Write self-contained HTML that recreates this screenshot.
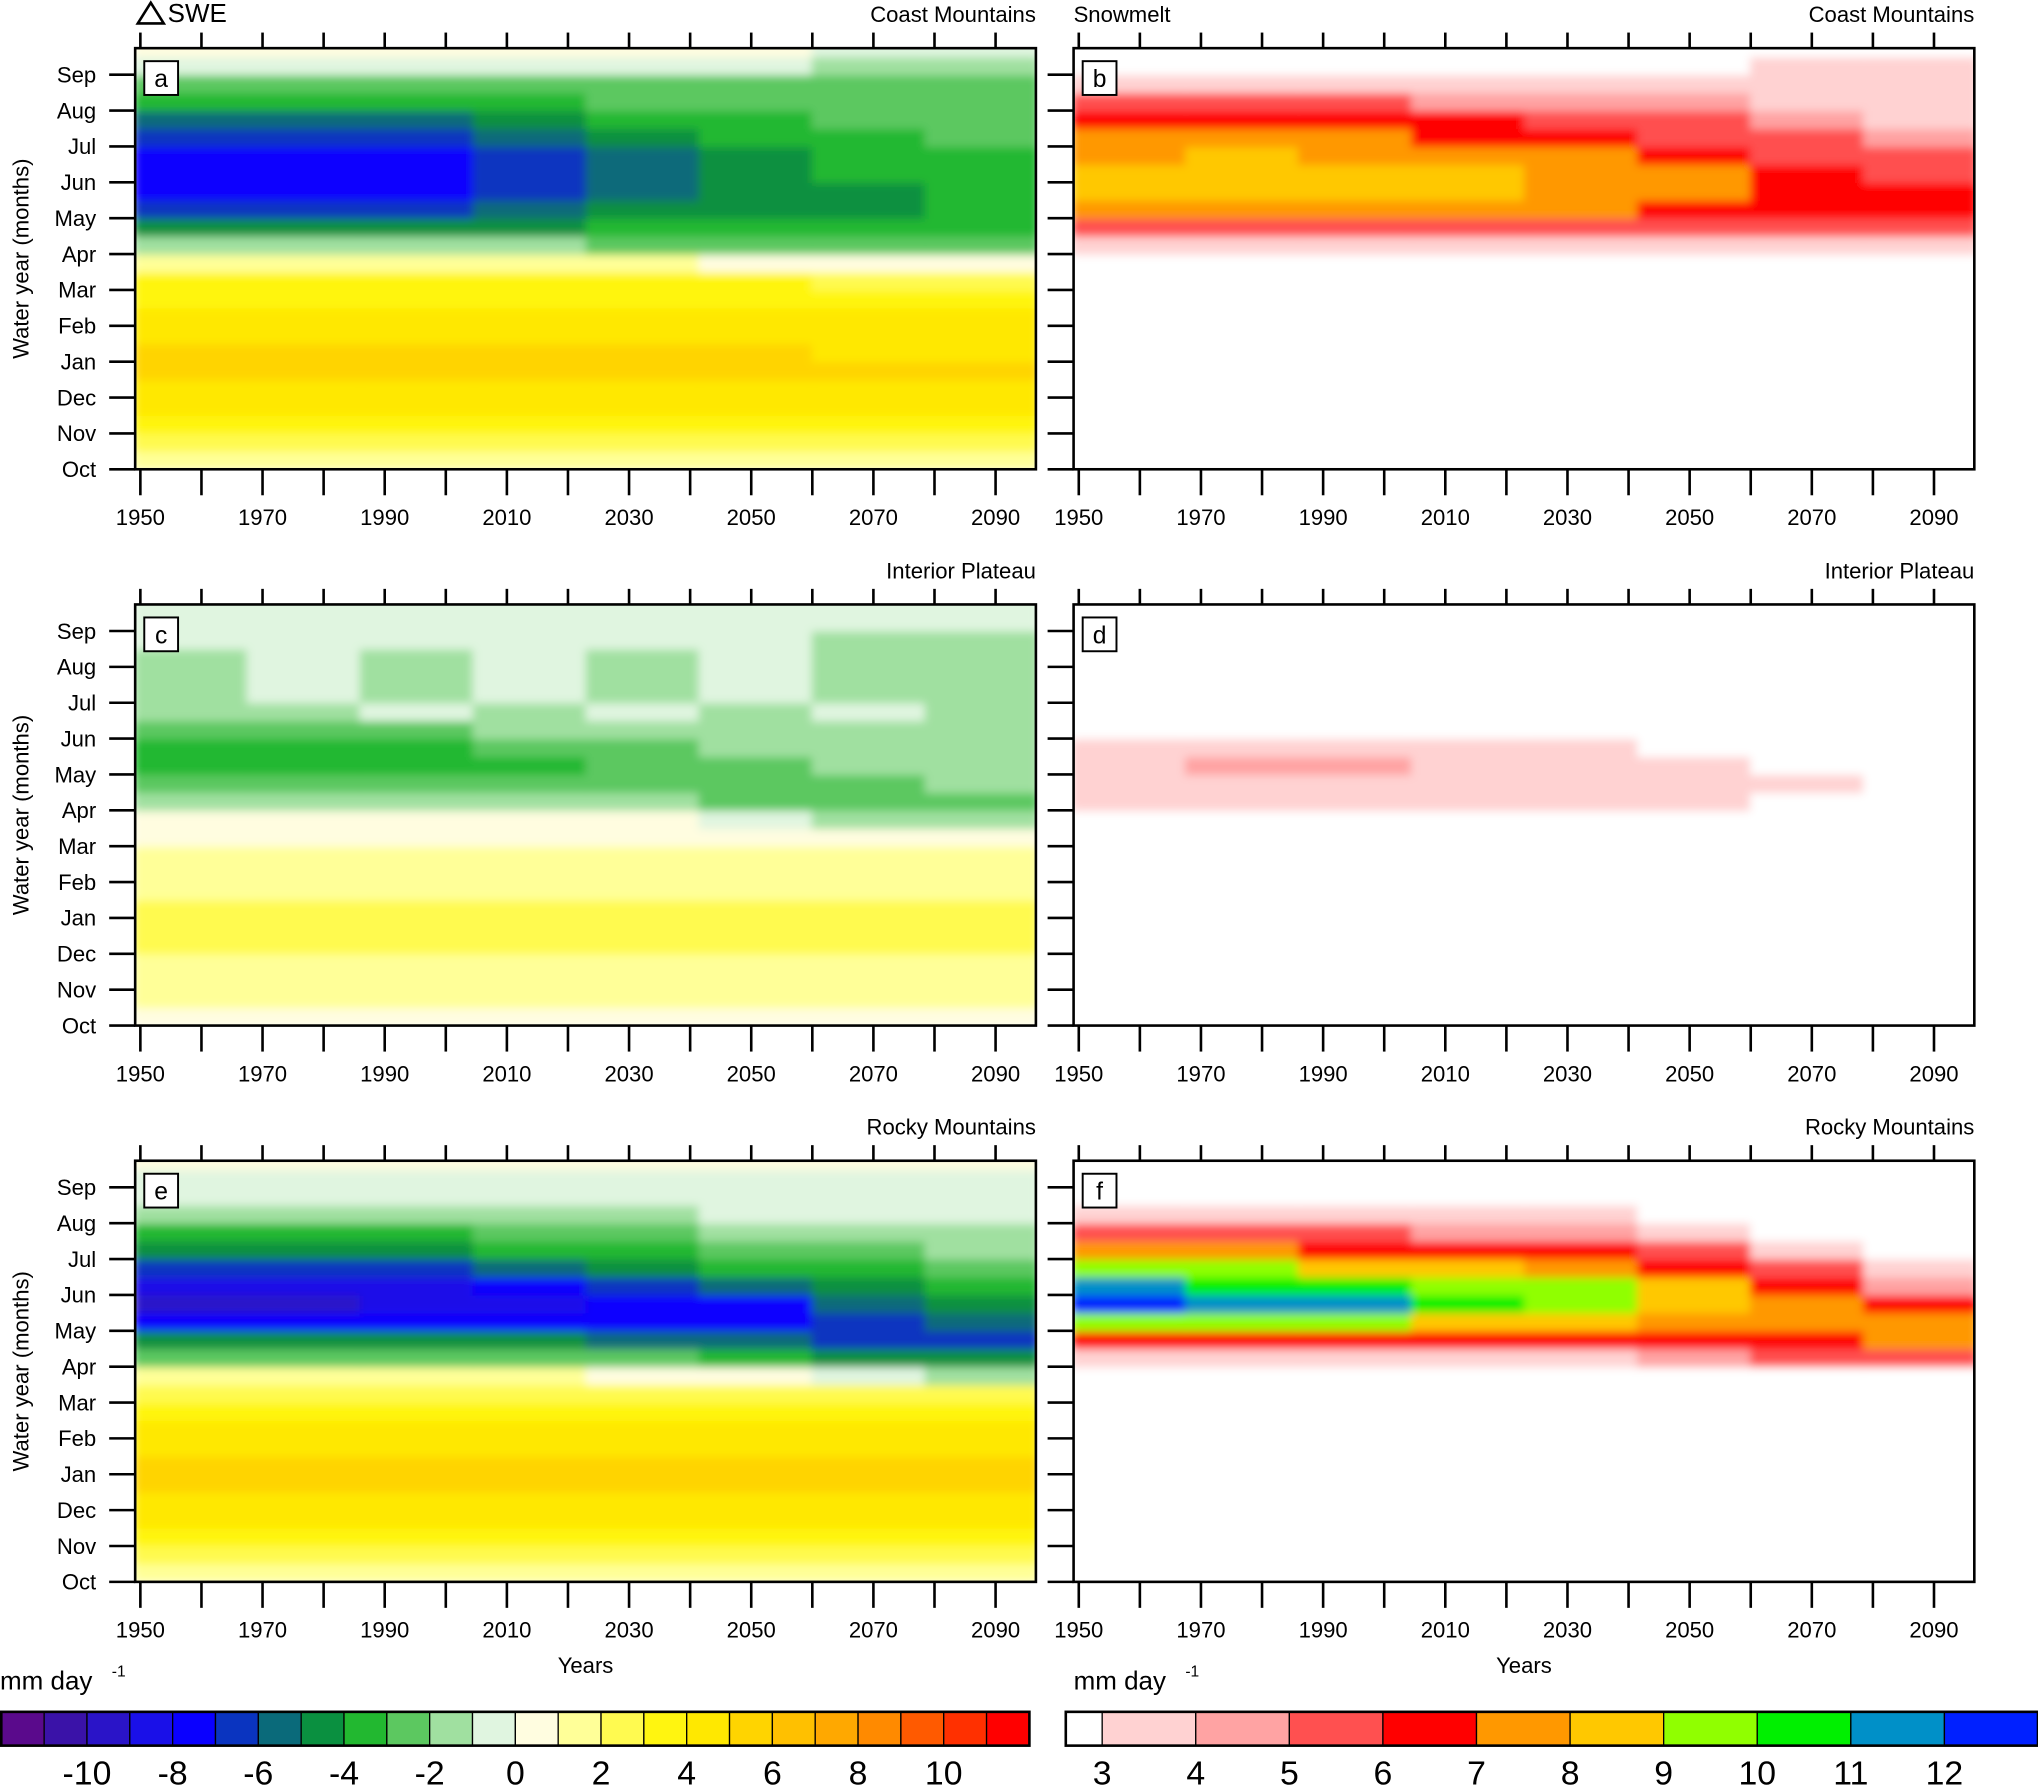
<!DOCTYPE html>
<html><head><meta charset="utf-8"><style>
html,body{margin:0;padding:0;background:#fff}
svg{display:block;font-family:"Liberation Sans",sans-serif}
</style></head><body>
<svg id="fig" width="2038" height="1786" viewBox="0 0 1568 1374" xmlns="http://www.w3.org/2000/svg">
<defs>
<filter id="soft" x="0" y="0" width="1" height="1"><feGaussianBlur stdDeviation="3.5"/></filter>
</defs>
</svg>
<script>
// ---- data ----
const yearEdges = [1949, 1967.5, 1986, 2004.5, 2023, 2041.5, 2060, 2078.5, 2097];
const monthLabels = ["Oct","Nov","Dec","Jan","Feb","Mar","Apr","May","Jun","Jul","Aug","Sep"];
const yearTicks = [1950,1960,1970,1980,1990,2000,2010,2020,2030,2040,2050,2060,2070,2080,2090];
const yearLabels = [1950,1970,1990,2010,2030,2050,2070,2090];
const sweColors = ["#5a0a8c","#3a12a8","#2a14c8","#1a10e8","#0a00ff","#0a34c0","#0a6a7a","#0a9040","#22b830","#5cc860","#a0e0a0","#e0f5e0","#fffde0","#ffff98","#fffa50","#fff510","#ffe800","#ffd400","#ffc000","#ffa800","#ff8a00","#ff5a00","#ff3000","#ff0000"];
const sweTickLabels = [-10,-8,-6,-4,-2,0,2,4,6,8,10];
const meltColors = ["#ffffff","#ffd2d2","#ffa3a3","#ff5050","#ff0000","#ff9800","#ffc800","#90ff00","#00f000","#0090c8","#0020ff"];
const meltTickLabels = [3,4,5,6,7,8,9,10,11,12];
// rows: half-month bands from Oct (bottom) to Sep (top); columns follow yearEdges
const sweCoast = [
[1,1,1,1,1,1,1,1],[2,2,2,2,2,2,2,2],[3,3,3,3,3,3,3,3],[4,4,4,4,4,4,4,4],
[4,4,4,4,4,4,4,4],[5,5,5,5,5,5,5,5],[5,5,5,5,5,5,4,4],[4,4,4,4,4,4,4,4],
[4,4,4,4,4,4,4,4],[3,3,3,3,3,3,3,3],[3,3,3,3,3,3,2,2],[1,1,1,1,1,0,0,0],
[-2,-2,-2,-2,-3,-3,-3,-3],[-5,-5,-5,-5,-4,-4,-4,-4],[-7,-7,-7,-6,-5,-5,-5,-4],[-8,-8,-8,-7,-6,-5,-5,-4],
[-8,-8,-8,-7,-6,-5,-4,-4],[-8,-8,-8,-7,-6,-5,-4,-4],[-7,-7,-7,-6,-5,-4,-4,-3],[-6,-6,-6,-5,-4,-4,-3,-3],
[-4,-4,-4,-4,-3,-3,-3,-3],[-3,-3,-3,-3,-3,-3,-3,-3],[-1,-1,-1,-1,-1,-1,-2,-2],[0,0,0,0,0,0,-1,-1]];
const meltCoast = [
[0,0,0,0,0,0,0,0],[0,0,0,0,0,0,0,0],[0,0,0,0,0,0,0,0],[0,0,0,0,0,0,0,0],
[0,0,0,0,0,0,0,0],[0,0,0,0,0,0,0,0],[0,0,0,0,0,0,0,0],[0,0,0,0,0,0,0,0],
[0,0,0,0,0,0,0,0],[0,0,0,0,0,0,0,0],[0,0,0,0,0,0,0,0],[0,0,0,0,0,0,0,0],
[3.5,3.5,3.5,3.5,3.5,3.5,3.5,3.5],[5.5,5.5,5.5,5.5,5.5,5.5,5,5],[7.5,7.5,7.5,7.5,7,6.5,6.5,6],[8,8.5,8,8,7.5,7,6.5,6],
[8.5,8,8.5,8,7.5,7,6,5.5],[7.5,8,7.5,7.5,7,6.5,5.5,5],[7,7,7,6.5,6,5.5,5,4],[6.5,6.5,6.5,6,5.5,5,4,3.5],
[5,5,5,4.5,4.5,4,3.5,3.5],[3.5,3.5,3.5,3.5,3.5,3.5,3.5,3],[0,0,0,0,0,0,3,3],[0,0,0,0,0,0,0,0]];
const sweInterior = [
[0.5,0.5,0.5,0.5,0.5,0.5,0.5,0.5],[1,1,1,1,1,1,1,1],[1.5,1.5,1.5,1.5,1.5,1.5,1.5,1.5],[1.5,1.5,1.5,1.5,1.5,1.5,1.5,1.5],
[2,2,2,2,2,2,2,2],[2,2,2,2,2,2,2,2],[2,2,2,2,2,2,2,2],[1.5,1.5,1.5,1.5,1.5,1.5,1.5,1.5],
[1.5,1.5,1.5,1.5,1.5,1.5,1.5,1.5],[1,1,1,1,1,1,1,1],[0.5,0.5,0.5,0.5,0.5,0.5,0.5,0.5],[0.5,0.5,0.5,0.5,0.5,-0.5,-1.5,-1.5],
[-1.5,-1.5,-1.5,-1.5,-2,-2.5,-2.5,-2.5],[-2.5,-2.5,-2.5,-3,-3,-3,-2.5,-2],[-3.5,-3.5,-3.5,-3.5,-3,-2.5,-2,-1.5],[-3.5,-3.5,-3.5,-3,-2.5,-2,-1.5,-1.5],
[-2.5,-2.5,-2.5,-2,-2,-1.5,-1.5,-1.5],[-1.5,-1.5,-1,-1.5,-1,-1.5,-1,-1.5],[-1.5,-1,-1.5,-1,-1.5,-1,-1.5,-1.5],[-1.5,-1,-1.5,-1,-1.5,-1,-1.5,-1.5],
[-1.5,-1,-1.5,-1,-1.5,-1,-1.5,-1.5],[-1,-1,-1,-1,-1,-1,-1.5,-1.5],[-0.5,-0.5,-0.5,-0.5,-0.5,-0.5,-0.5,-0.5],[-0.5,-0.5,-0.5,-0.5,-0.5,-0.5,-0.5,-0.5]];
const meltInterior = [
[0,0,0,0,0,0,0,0],[0,0,0,0,0,0,0,0],[0,0,0,0,0,0,0,0],[0,0,0,0,0,0,0,0],
[0,0,0,0,0,0,0,0],[0,0,0,0,0,0,0,0],[0,0,0,0,0,0,0,0],[0,0,0,0,0,0,0,0],
[0,0,0,0,0,0,0,0],[0,0,0,0,0,0,0,0],[0,0,0,0,0,0,0,0],[0,0,0,0,0,0,0,0],
[3.5,3.5,3.5,3.5,3.5,3,0,0],[3.5,3.5,3.5,3.5,3.5,3.5,3,0],[3.5,4,4,3.5,3.5,3.5,0,0],[3.5,3.5,3.5,3.5,3,0,0,0],
[0,0,0,0,0,0,0,0],[0,0,0,0,0,0,0,0],[0,0,0,0,0,0,0,0],[0,0,0,0,0,0,0,0],
[0,0,0,0,0,0,0,0],[0,0,0,0,0,0,0,0],[0,0,0,0,0,0,0,0],[0,0,0,0,0,0,0,0]];
const sweRocky = [
[1,1,1,1,1,1,1,1],[2,2,2,2,2,2,2,2],[3,3,3,3,3,3,3,3],[4,4,4,4,4,4,4,4],
[4,4,4,4,4,4,4,4],[5,5,5,5,5,5,5,5],[5,5,5,5,5,5,5,5],[4,4,4,4,4,4,4,4],
[4,4,4,4,4,4,4,4],[3,3,3,3,3,3,3,3],[2,2,2,2,2,2,2,2],[1,1,1,1,0,0,-1,-2],
[-3,-3,-3,-3,-3,-4,-5,-5],[-5,-5,-5,-5,-6,-6,-7,-7],[-8,-8,-8,-8,-8,-8,-7,-6],[-10,-10,-9,-9,-8,-8,-6,-5],
[-9,-9,-9,-8,-7,-6,-5,-4],[-7,-7,-7,-6,-5,-4,-4,-3],[-5,-5,-5,-4,-4,-3,-3,-2],[-4,-4,-4,-3,-3,-2,-2,-2],
[-2,-2,-2,-2,-2,-1,-1,-1],[-1,-1,-1,-1,-1,-1,-1,-1],[-1,-1,-1,-1,-1,-1,-1,-1],[0,0,0,0,0,0,0,0]];
const meltRocky = [
[0,0,0,0,0,0,0,0],[0,0,0,0,0,0,0,0],[0,0,0,0,0,0,0,0],[0,0,0,0,0,0,0,0],
[0,0,0,0,0,0,0,0],[0,0,0,0,0,0,0,0],[0,0,0,0,0,0,0,0],[0,0,0,0,0,0,0,0],
[0,0,0,0,0,0,0,0],[0,0,0,0,0,0,0,0],[0,0,0,0,0,0,0,0],[0,0,0,0,0,0,0,0],
[3.5,3.5,3.5,3.5,3.5,4,5,5.5],[6,6,6,6,6,6,6.5,7.5],[9,9,9,8.5,8,7.5,7.5,7],[12,11.5,11,10,9,8.5,7,6],
[11,10.5,10,9.5,9,8,6,4.5],[9,9,8.5,8,7.5,6.5,5,3.5],[7,7,6.5,6.5,6,5,3.5,0],[5,5,5,4.5,4,3.5,0,0],
[3.5,3.5,3.5,3.5,3,0,0,0],[0,0,0,0,0,0,0,0],[0,0,0,0,0,0,0,0],[0,0,0,0,0,0,0,0]];

// ---- drawing ----
const NS = "http://www.w3.org/2000/svg";
const svg = document.getElementById("fig");
function mk(tag, attrs, parent, name, inter) {
  const e = document.createElementNS(NS, tag);
  for (const k in attrs) e.setAttribute(k, attrs[k]);
  
  
  (parent || svg).appendChild(e);
  return e;
}
function txt(x, y, s, size, anchor, name, parent) {
  const t = mk("text", {x: x, y: y, "font-size": size, "text-anchor": anchor || "start", fill: "#000"}, parent, name, false);
  t.textContent = s;
  return t;
}
const PW = 693, PH = 324;
const Y0 = 1949.15, Y1 = 2096.6, MTOP = 11.74;
function sweIdx(v) { return Math.max(0, Math.min(23, Math.floor(v) + 12)); }
function meltIdx(v) { return Math.max(0, Math.min(10, Math.floor(v) - 2)); }

function panel(px, py, data, colors, idxFn, letter, region, headLeft, isLeft, showXTitle, id) {
  const g = mk("g", {}, svg, "panel-" + letter, false);
  const xs = yr => px + (yr - Y0) / (Y1 - Y0) * PW;
  const ys = m => py + PH - m / MTOP * PH;
  const clipId = "clip" + id;
  const cp = mk("clipPath", {id: clipId}, g, "clip-" + letter, false);
  mk("rect", {x: px, y: py, width: PW, height: PH}, cp, "clip-rect", false);
  const heat = mk("g", {"clip-path": "url(#" + clipId + ")"}, g, "heatmap-" + letter, false);
  mk("rect", {x: px, y: py, width: PW, height: PH, fill: "#fff"}, heat, "heatmap-background", false);
  const inner = mk("g", {filter: "url(#soft)"}, heat, "heatmap-cells", false);
  for (let r = 0; r < data.length; r++) {
    for (let c = 0; c < data[r].length; c++) {
      const x0 = xs(yearEdges[c]), x1 = xs(yearEdges[c + 1]);
      const yTop = ys((r + 1) * 0.5), yBot = ys(r * 0.5);
      const cell = mk("rect", {x: x0 - 0.5, y: yTop - 0.5, width: x1 - x0 + 1, height: yBot - yTop + 1, fill: colors[idxFn(data[r][c])]}, inner, "heat-cell", false);
    }
  }
  mk("rect", {x: px, y: py, width: PW, height: PH, fill: "none", stroke: "#000", "stroke-width": 2}, g, "plot-frame", false);
  monthLabels.forEach((m, i) => {
    const y = ys(i);
    mk("line", {x1: px - 20, x2: px, y1: y, y2: y, stroke: "#000", "stroke-width": 2}, g, "y-tick", false);
    if (isLeft) txt(px - 30, y + 6, m, 17, "end", "y-tick-label", g);
  });
  yearTicks.forEach(yr => {
    const x = xs(yr);
    mk("line", {x1: x, x2: x, y1: py + PH, y2: py + PH + 20, stroke: "#000", "stroke-width": 2}, g, "x-tick", false);
    mk("line", {x1: x, x2: x, y1: py - 12, y2: py, stroke: "#000", "stroke-width": 2}, g, "x-tick-top", false);
  });
  yearLabels.forEach(yr => txt(xs(yr), py + PH + 43, String(yr), 17, "middle", "x-tick-label", g));
  mk("rect", {x: px + 7, y: py + 10, width: 26, height: 26, fill: "#fff", stroke: "#000", "stroke-width": 1.5}, g, "panel-letter-box", false);
  txt(px + 20, py + 30, letter, 19, "middle", "panel-letter", g);
  txt(px + PW, py - 20, region, 17, "end", "region-title", g);
  if (headLeft) txt(px + (isLeft ? 25 : 0), py - 20, headLeft, isLeft ? 20 : 17, "start", "variable-title", g);
  if (isLeft) {
    const t = txt(0, 0, "Water year (months)", 17, "middle", "y-axis-title", g);
    t.setAttribute("transform", "translate(22," + (py + PH / 2) + ") rotate(-90)");
  }
  if (showXTitle) txt(px + PW / 2 + 0, py + PH + 70, "Years", 17, "middle", "x-axis-title", g);
  return g;
}

panel(104, 37, sweCoast, sweColors, sweIdx, "a", "Coast Mountains", "SWE", true, false, 1);
panel(826, 37, meltCoast, meltColors, meltIdx, "b", "Coast Mountains", "Snowmelt", false, false, 2);
panel(104, 465, sweInterior, sweColors, sweIdx, "c", "Interior Plateau", null, true, false, 3);
panel(826, 465, meltInterior, meltColors, meltIdx, "d", "Interior Plateau", null, false, false, 4);
panel(104, 893, sweRocky, sweColors, sweIdx, "e", "Rocky Mountains", null, true, true, 5);
panel(826, 893, meltRocky, meltColors, meltIdx, "f", "Rocky Mountains", null, false, true, 6);
mk("polygon", {points: "106,18 116,2 126,18", fill: "none", stroke: "#000", "stroke-width": 2}, svg, "delta-symbol", false);

function colorbar(x, y, widths, colors, labels, labelXs, name) {
  const g = mk("g", {}, svg, name, false);
  let cx = x;
  colors.forEach((c, i) => {
    mk("rect", {x: cx, y: y, width: widths[i], height: 26, fill: c, stroke: "#000", "stroke-width": 1}, g, "colorbar-box", false);
    cx += widths[i];
  });
  mk("rect", {x: x, y: y, width: cx - x, height: 26, fill: "none", stroke: "#000", "stroke-width": 2}, g, "colorbar-frame", false);
  labels.forEach((l, i) => txt(labelXs[i], y + 56, String(l), 26, "middle", "colorbar-label", g));
}
const sw = 791 / 24;
colorbar(1, 1317, sweColors.map(() => sw), sweColors, sweTickLabels, sweTickLabels.map(v => 1 + (v + 12) * sw), "swe-colorbar");
const mw = [28, 72, 72, 72, 72, 72, 72, 72, 72, 72, 72];
colorbar(820, 1317, mw, meltColors, meltTickLabels, meltTickLabels.map((v, i) => 848 + i * 72), "snowmelt-colorbar");
txt(0, 1300, "mm day", 20, "start", "swe-units", svg);
txt(86, 1290, "-1", 12, "start", "swe-units-exp", svg);
txt(826, 1300, "mm day", 20, "start", "snowmelt-units", svg);
txt(912, 1290, "-1", 12, "start", "snowmelt-units-exp", svg);
</script>
</body></html>
